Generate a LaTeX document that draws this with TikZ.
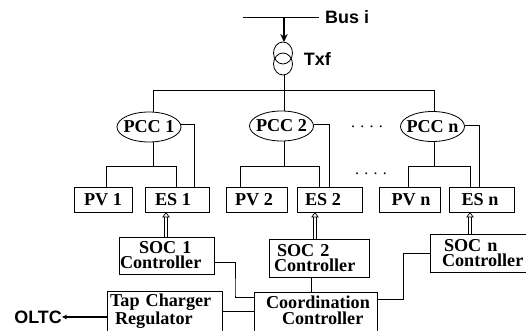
\documentclass[tikz,border=0pt]{standalone}
\usepackage{fontspec}
\setmainfont{Liberation Serif}
\setsansfont{Liberation Sans}
\usetikzlibrary{positioning,arrows.meta,shapes.geometric}

\begin{document}
\begin{tikzpicture}[
  box/.style={draw, line width=0.7pt, align=left, inner xsep=0pt, inner ysep=0pt, outer sep=0pt,
              font=\fontsize{15.5}{13.5}\selectfont\bfseries},
  unit/.style={box, align=center, minimum height=0.75cm},
  pccnode/.style={draw, line width=0.7pt, ellipse, inner xsep=-2mm, inner ysep=0pt, outer sep=0pt,
                  minimum width=1.92cm, minimum height=0.9cm,
                  font=\fontsize{15.5}{13.5}\selectfont\bfseries},
  coil/.style={draw, line width=0.7pt, ellipse, inner sep=0pt, outer sep=0pt,
               minimum width=0.57cm, minimum height=0.66cm},
  tag/.style={inner sep=0pt, font=\fontsize{15.3}{16}\selectfont\sffamily\bfseries},
  gapdots/.style={inner sep=0pt, font=\fontsize{13.5}{14}\selectfont},
  wire/.style={line width=0.7pt},
  arr/.style={-{Stealth[length=2.4mm, width=2.2mm]}, line width=1.7pt},
  dblarr/.style={-{Triangle[open, fill=white, length=1.6mm, width=2.2mm]}, double, double distance=1.5pt, line width=0.6pt},
  ]
  \useasboundingbox (0,0) rectangle (15.78,9.93);
  \clip (0,0) rectangle (15.78,9.93);

  % bus and transformer
  \coordinate (busl) at (7.29,9.42);
  \coordinate (busr) at (9.57,9.42);
  \coordinate (busj) at (8.52,9.42);
  \node[tag, right=0.18cm of busr] (bus) {Bus i};
  \node[coil] (upper) at (8.49,8.34) {};
  \node[coil] (lower) at (8.49,8.01) {};
  \node[tag, right=0.42cm of lower.north east, anchor=west, yshift=-0.08cm] (txf) {Txf};
  \coordinate (tie0) at (8.52,7.23);
  \coordinate (tie1) at (4.59,7.23);
  \coordinate (tie2) at (8.52,7.23);
  \coordinate (tien) at (13.02,7.23);

  % PCC row
  \node[pccnode] (pcc1) at (4.47,6.12) {PCC 1};
  \node[pccnode] (pcc2) at (8.445,6.15) {PCC 2};
  \node[pccnode] (pccn) at (12.975,6.135) {PCC n};
  \node[gapdots] (dots1) at (11.01,6.12) {. . . .};
  \node[gapdots] (dots2) at (11.13,4.71) {. . . .};

  % source row
  \node[unit, minimum width=1.74cm] (pv1) at (3.09,3.945) {PV 1};
  \node[unit, minimum width=1.92cm, right=0.39cm of pv1] (es1) {ES 1\hspace*{0.24cm}};
  \node[unit, minimum width=1.83cm, right=0.51cm of es1] (pv2) {PV 2\hspace*{0.15cm}};
  \node[unit, minimum width=1.95cm, right=0.30cm of pv2] (es2) {ES 2\hspace*{0.39cm}};
  \node[unit, minimum width=1.83cm, right=0.51cm of es2] (pvn) {\hspace*{0.09cm}PV n};
  \node[unit, minimum width=1.95cm, right=0.27cm of pvn] (esn) {ES n\hspace*{0.09cm}};

  % controllers
  \node[box, text width=2.85cm, minimum height=1.11cm, below=0.75cm of es1, xshift=-0.315cm] (soc1)
    {\hspace*{0.6cm}SOC 1\\[-0.02cm]\hspace*{0.03cm}Controller};
  \node[box, text width=3cm, minimum height=1.14cm, below=0.81cm of es2, xshift=-0.315cm] (soc2)
    {\hspace*{0.24cm}SOC 2\\\hspace*{0.15cm}Controller};
  \node[box, text width=2.88cm, minimum height=1.14cm, below=0.66cm of esn, xshift=-0.105cm] (socn)
    {\hspace*{0.42cm}SOC n\\\hspace*{0.36cm}Controller};
  \node[box, text width=3.45cm, minimum height=1.23cm, below=0.51cm of soc1, xshift=-0.06cm] (tap)
    {\hspace*{0.09cm}Tap Charger\\\hspace*{0.24cm}Regulator};
  \node[box, text width=3.69cm, minimum height=1.23cm, right=0.96cm of tap, yshift=-0.03cm] (coord)
    {\hspace*{0.36cm}Coordination\\\hspace*{0.84cm}Controller\\[-0.36cm]\mbox{}};
  \node[tag, left=1.35cm of tap.west, yshift=-0.165cm] (oltc) {OLTC};

  \draw[wire] (busl) -- (busr);
  \draw[arr] (busj) -- (busj |- upper.north);
  \draw[wire] (lower.south -| tie0) -- (tie0);
  \draw[wire] (tie1) -- (tien);
  \draw[wire] (tie1) -- (tie1 |- pcc1.north);
  \draw[wire] (tie2) -- (tie2 |- pcc2.north);
  \draw[wire] (tien) -- (tien |- pccn.north);

  \coordinate[above=0.63cm of pv1.north] (fork);
  \draw[wire] (pcc1.south -| tie1) -- (tie1 |- fork);
  \draw[wire] (pcc2.south -| tie2) -- (tie2 |- fork);
  \draw[wire] (pccn.south -| tien) -- (tien |- fork);
  \draw[wire] ([xshift=0.09cm]pv1.north) -- ++(0,0.63) -| ([xshift=-0.03cm]es1.north);
  \draw[wire] ([xshift=-0.495cm]pv2.north) -- ++(0,0.63) -| ([xshift=-0.315cm]es2.north);
  \draw[wire] ([xshift=-0.045cm]pvn.north) -- ++(0,0.63) -| ([xshift=-0.345cm]esn.north);
  \draw[wire] ([yshift=0.09cm]pcc1.east) -| ([xshift=0.51cm]es1.north);
  \draw[wire] ([yshift=0.06cm]pcc2.east) -| ([xshift=-0.015cm]es2.north);
  \draw[wire] ([yshift=0.045cm]pccn.east) -| ([xshift=-0.075cm]esn.north);

  \draw[dblarr] ([xshift=-0.015cm]soc1.north) -- ([xshift=-0.015cm]soc1.north |- es1.south);
  \draw[dblarr] ([xshift=-0.12cm]soc2.north) -- ([xshift=-0.12cm]soc2.north |- es2.south);
  \draw[dblarr] ([xshift=-0.24cm]socn.north) -- ([xshift=-0.24cm]socn.north |- esn.south);

  \draw[wire] ([yshift=-0.21cm]soc1.east) -| ++(0.63,-0.96) |- ([yshift=0.45cm]coord.west);
  \draw[wire] (tap.east) -- (tap.east -| coord.west);
  \draw[wire] ([xshift=-0.24cm]soc2.south) -- ([xshift=-0.24cm]soc2.south |- coord.north);
  \draw[wire] ([yshift=0.39cm]coord.east) -- ++(0.78,0) |- (socn.west);
  \draw[arr, line width=1pt, -{Stealth[length=1.5mm, width=1.4mm]}] (oltc.east -| tap.west) -- (oltc.east);
\end{tikzpicture}
\end{document}
